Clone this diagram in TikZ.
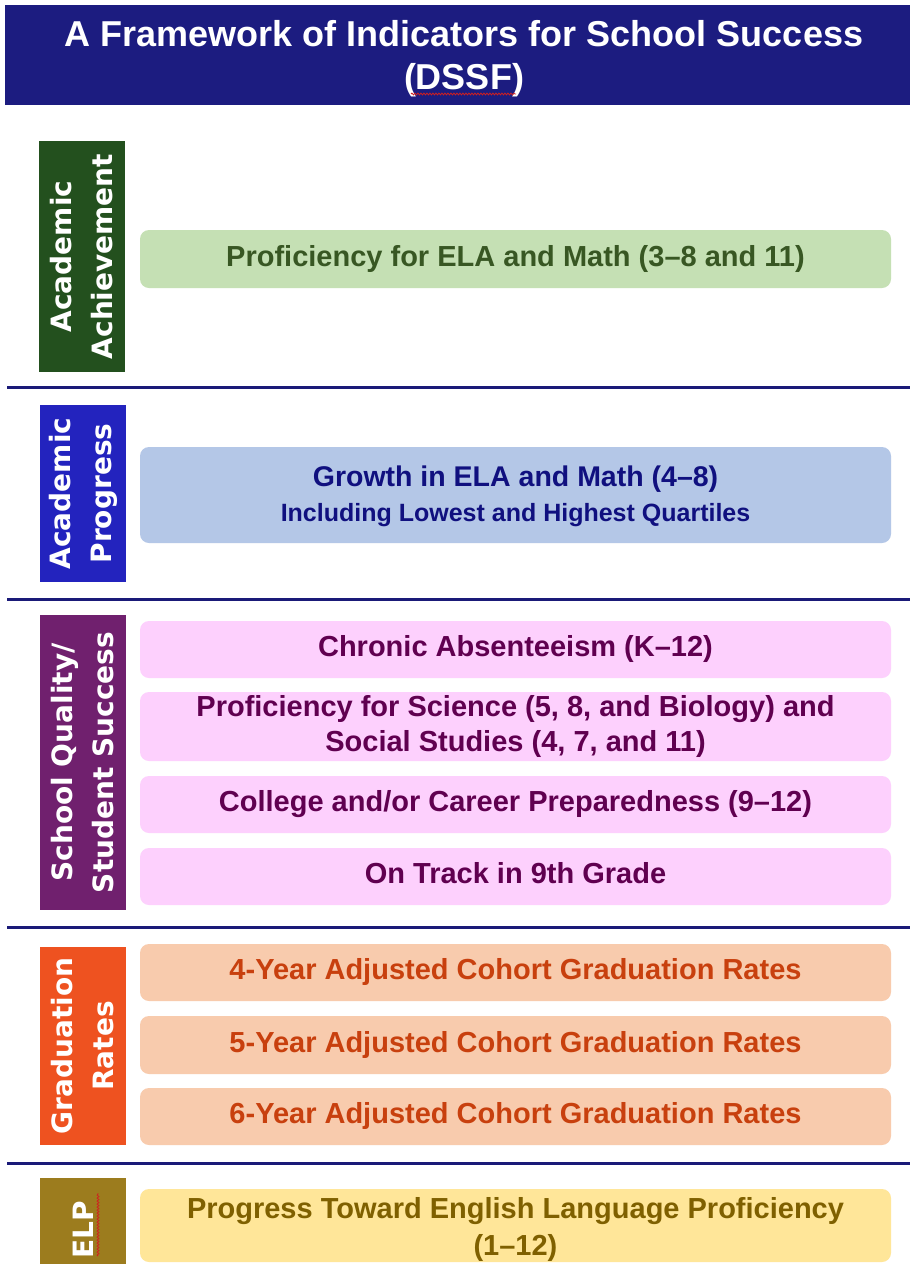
\documentclass[tikz,border=0pt]{standalone}
\usepackage{fontspec}
\setmainfont{Liberation Sans}
\newfontfamily\vfont{DejaVu Sans}
\usetikzlibrary{decorations.pathmorphing}
\definecolor{titleblue}{HTML}{1C1C80}
\definecolor{sepblue}{HTML}{1A1A78}
\definecolor{barA}{HTML}{23501E}
\definecolor{barB}{HTML}{2323BE}
\definecolor{barC}{HTML}{70206E}
\definecolor{barD}{HTML}{EE5220}
\definecolor{barE}{HTML}{9C7C1E}
\definecolor{fillA}{HTML}{C5E0B4}
\definecolor{fillB}{HTML}{B4C7E7}
\definecolor{fillC}{HTML}{FDD0FD}
\definecolor{fillD}{HTML}{F8CBAD}
\definecolor{fillE}{HTML}{FFE699}
\definecolor{txtA}{HTML}{385723}
\definecolor{txtB}{HTML}{10107F}
\definecolor{txtC}{HTML}{600050}
\definecolor{txtD}{HTML}{C8400E}
\definecolor{txtE}{HTML}{7F6000}
\definecolor{wavy}{HTML}{D02020}
\newcommand\sstrut{\rule[-7pt]{0pt}{27pt}}
\tikzset{
  cbox/.style={rounded corners=9pt, minimum width=751pt, inner sep=0pt, align=center,
    font=\fontsize{29}{35}\selectfont\bfseries},
  bar/.style={rotate=90, minimum height=86pt, inner sep=0pt, align=center, text=white,
    font=\vfont\bfseries\fontsize{28}{41}\selectfont},
  sepline/.style={draw=sepblue, line width=3pt},
  spell/.style={draw=wavy, line width=0.8pt, decorate,
    decoration={snake, amplitude=0.9pt, segment length=3pt}}
}
\begin{document}
\begin{tikzpicture}[x=1pt,y=-1pt]
\useasboundingbox (0,0) rectangle (910,1264);
\fill[white] (0,0) rectangle (910,1264);

% title
\node[fill=titleblue, minimum width=905pt, minimum height=100pt, inner sep=0pt] (titlebar) at (457.5,55) {};
\node[text=white, align=center, font=\fontsize{36}{43}\selectfont\bfseries] (title) at (464,59)
  {A Framework of Indicators for School Success\\(DSSF)};
\coordinate (dssfL) at (411,94);
\coordinate (dssfR) at (516,94);
\draw[spell] (dssfL) -- (dssfR);

% separators
\coordinate (s1l) at (7,387);  \coordinate (s1r) at (910,387);
\coordinate (s2l) at (7,599);  \coordinate (s2r) at (910,599);
\coordinate (s3l) at (7,927);  \coordinate (s3r) at (910,927);
\coordinate (s4l) at (7,1163); \coordinate (s4r) at (910,1163);
\draw[sepline] (s1l) -- (s1r);
\draw[sepline] (s2l) -- (s2r);
\draw[sepline] (s3l) -- (s3r);
\draw[sepline] (s4l) -- (s4r);

% side bars
\node[bar, fill=barA, minimum width=231pt] (barA) at (82,256.5) {Academic\\Achievement};
\node[bar, fill=barB, minimum width=177pt] (barB) at (83,493.5) {Academic\\Progress};
\node[bar, fill=barC, minimum width=295pt] (barC) at (83,762.5) {School Quality/\\Student Success};
\node[bar, fill=barD, minimum width=198pt] (barD) at (83,1046) {Graduation\\Rates};
\node[bar, fill=barE, minimum width=104pt] (barE) at (83,1230) {ELP};
\coordinate (elpT) at (98,1193);
\coordinate (elpB) at (98,1256);
\draw[spell] (elpB) -- (elpT);

% academic achievement
\node[cbox, fill=fillA, text=txtA, minimum height=58pt] (ela) at (515.5,259)
  {\sstrut Proficiency for ELA and Math (3–8 and 11)};

% academic progress
\node[cbox, fill=fillB, text=txtB, minimum height=96pt] (growth) at (515.5,495)
  {\fontsize{28.5}{31}\selectfont\rule{0pt}{25pt}Growth in ELA and Math (4–8)\\
   \fontsize{25}{31}\selectfont\rule[-6.3pt]{0pt}{0pt}Including Lowest and Highest Quartiles};

% school quality
\node[cbox, fill=fillC, text=txtC, minimum height=57pt] (chronic) at (515.5,649.5)
  {\sstrut Chronic Absenteeism (K–12)};
\node[cbox, fill=fillC, text=txtC, minimum height=69pt] (science) at (515.5,726.5)
  {\sstrut Proficiency for Science (5, 8, and Biology) and\\\sstrut Social Studies (4, 7, and 11)};
\node[cbox, fill=fillC, text=txtC, minimum height=57pt] (college) at (515.5,804.5)
  {\sstrut College and/or Career Preparedness (9–12)};
\node[cbox, fill=fillC, text=txtC, minimum height=57pt] (ontrack) at (515.5,876.5)
  {\sstrut On Track in 9th Grade};

% graduation
\node[cbox, fill=fillD, text=txtD, minimum height=57pt] (grad4) at (515.5,972.5)
  {\sstrut 4-Year Adjusted Cohort Graduation Rates};
\node[cbox, fill=fillD, text=txtD, minimum height=58pt] (grad5) at (515.5,1045)
  {\sstrut 5-Year Adjusted Cohort Graduation Rates};
\node[cbox, fill=fillD, text=txtD, minimum height=57pt] (grad6) at (515.5,1116.5)
  {\sstrut 6-Year Adjusted Cohort Graduation Rates};

% ELP
\node[cbox, fill=fillE, text=txtE, minimum height=73pt, font=\fontsize{29}{37}\selectfont\bfseries] (elp) at (515.5,1225.5)
  {\rule{0pt}{29pt}Progress Toward English Language Proficiency\\\rule[-6pt]{0pt}{0pt}(1–12)};
\end{tikzpicture}
\end{document}
